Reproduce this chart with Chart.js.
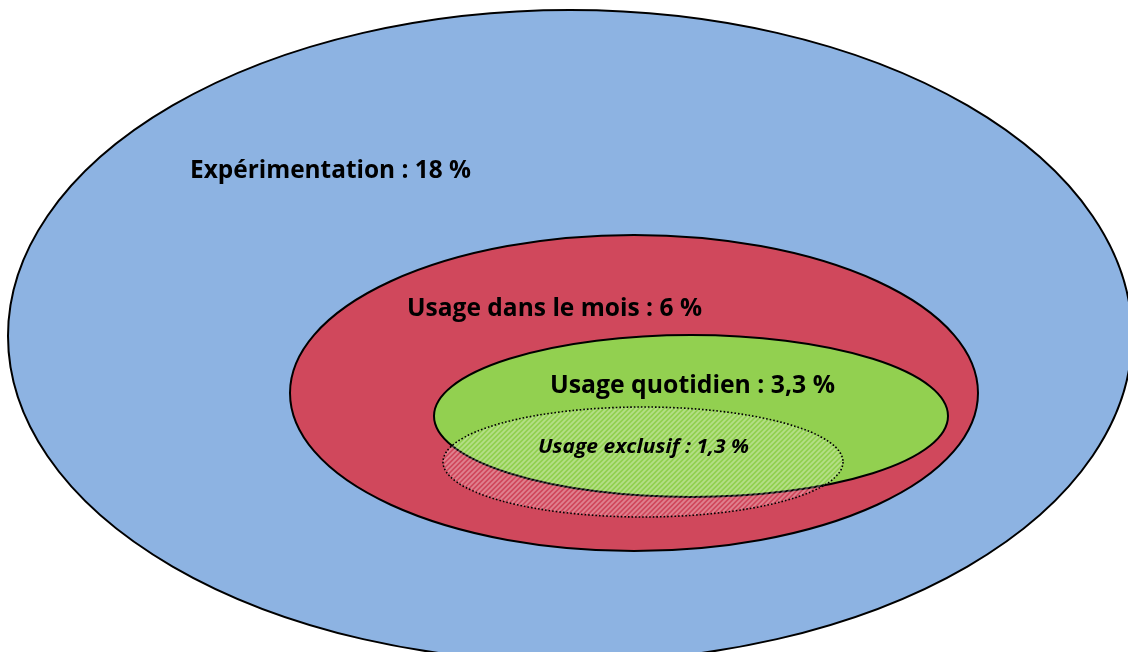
<!DOCTYPE html>
<html>
<head>
<meta charset="utf-8">
<script src="https://cdn.jsdelivr.net/npm/chart.js@4.4.1/dist/chart.umd.min.js"></script>
<style>
  html, body { margin: 0; padding: 0; background: #fff; }
  #wrap { width: 1128px; height: 652px; }
</style>
</head>
<body>
<div id="wrap"><canvas id="c" width="1128" height="652"></canvas></div>
<script>
// Données : niveaux d'usage (en %)
const categories = ['Expérimentation', 'Usage dans le mois', 'Usage quotidien', 'Usage exclusif'];
const values = [18, 6, 3.3, 1.3];

// Mise en page des ellipses dans le repère des axes (0..1128 x 0..652)
const ellCx = [570, 634, 691, 643];
const ellCy = [336, 393, 416, 462];
const ellRx = [562, 344, 257, 200];
const ellRy = [326, 158, 81, 55];
const fills = ['#8DB3E2', '#D0485C', '#92D050', null];

// Position des étiquettes (gauche, ligne de base, droite)
const labLeft = [190, 407, 550, 538];
const labBase = [178, 316, 393, 453];
const labRight = [471, 702, 835, 749];

function fmt(v) {
  return String(v).replace('.', ',');
}

// motif hachuré pour "Usage exclusif"
function makeHatch() {
  const p = document.createElement('canvas');
  p.width = 5; p.height = 5;
  const g = p.getContext('2d');
  g.strokeStyle = 'rgba(255,255,255,0.32)';
  g.lineWidth = 1.8;
  g.beginPath();
  g.moveTo(-1, 6); g.lineTo(6, -1);
  g.moveTo(-1, 1); g.lineTo(1, -1);
  g.moveTo(4, 6); g.lineTo(6, 4);
  g.stroke();
  return p;
}

const ellipsesPlugin = {
  id: 'ellipses',
  beforeDatasetsDraw(chart) {
    const { ctx, scales: { x, y } } = chart;
    const hatch = ctx.createPattern(makeHatch(), 'repeat');
    for (let i = 0; i < categories.length; i++) {
      const px = x.getPixelForValue(ellCx[i]);
      const py = y.getPixelForValue(ellCy[i]);
      const rx = Math.abs(x.getPixelForValue(ellCx[i] + ellRx[i]) - px);
      const ry = Math.abs(y.getPixelForValue(ellCy[i] + ellRy[i]) - py);
      ctx.save();
      ctx.beginPath();
      ctx.ellipse(px, py, rx, ry, 0, 0, Math.PI * 2);
      if (fills[i]) {
        ctx.fillStyle = fills[i];
        ctx.fill();
        ctx.lineWidth = 2;
        ctx.strokeStyle = '#000';
        ctx.stroke();
      } else {
        ctx.fillStyle = hatch;
        ctx.fill();
        ctx.setLineDash([1.6, 2]);
        ctx.lineWidth = 1.6;
        ctx.strokeStyle = '#000';
        ctx.stroke();
      }
      ctx.restore();
    }
  },
  afterDatasetsDraw(chart) {
    const { ctx, scales: { x } } = chart;
    const meta = chart.getDatasetMeta(0);
    meta.data.forEach((pt, i) => {
      const text = categories[i] + ' : ' + fmt(values[i]) + ' %';
      const italic = i === 3;
      ctx.save();
      ctx.font = (italic ? 'italic bold 19px' : 'bold 25px') + ' "Open Sans", sans-serif';
      ctx.fillStyle = '#000';
      ctx.textBaseline = 'alphabetic';
      const target = x.getPixelForValue(labRight[i]) - pt.x;
      const w = ctx.measureText(text).width;
      ctx.translate(pt.x, pt.y);
      ctx.scale(target / w, 1);
      ctx.fillText(text, 0, 0);
      ctx.restore();
    });
  }
};

new Chart(document.getElementById('c'), {
  type: 'scatter',
  data: {
    datasets: [{
      data: labLeft.map((lx, i) => ({ x: lx, y: labBase[i] })),
      pointRadius: 0,
      pointHoverRadius: 0
    }]
  },
  options: {
    responsive: false,
    animation: false,
    layout: { padding: 0 },
    scales: {
      x: { display: false, min: 0, max: 1128 },
      y: { display: false, min: 0, max: 652, reverse: true }
    },
    plugins: {
      legend: { display: false },
      tooltip: { enabled: false }
    }
  },
  plugins: [ellipsesPlugin]
});
</script>
</body>
</html>
